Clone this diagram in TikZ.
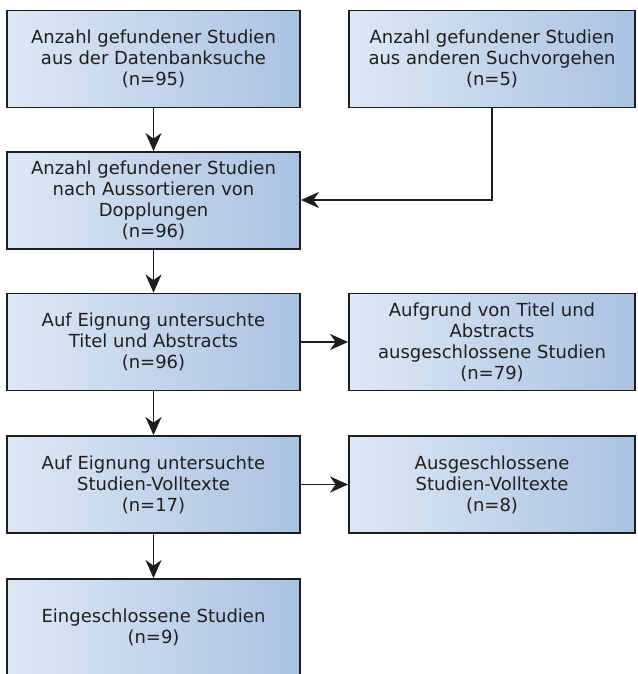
\documentclass[tikz,border=0pt]{standalone}
\usepackage{fontspec}
\setmainfont{DejaVu Sans}
\usetikzlibrary{arrows.meta}
\definecolor{boxl}{HTML}{DDE8F5}
\definecolor{boxr}{HTML}{AAC2E2}
\definecolor{edge}{HTML}{1E1E1E}
\begin{document}
\begin{tikzpicture}[x=1pt,y=1pt,
  flowbox/.style={draw=edge, line width=1.8pt, left color=boxl, right color=boxr,
    minimum height=97pt, inner sep=0pt, align=center,
    font=\fontsize{18}{21}\selectfont, text=black!88},
  lbox/.style={flowbox, minimum width=293pt},
  rbox/.style={flowbox, minimum width=286pt},
  arr/.style={draw=edge, line width=1.9pt, -{Stealth[length=18pt,width=16pt,inset=5.5pt]}}]
\useasboundingbox (0,0) rectangle (637,674);
\begin{scope}
\clip (0,0) rectangle (637,674);
\node[lbox] (b1) at (153.5,615) {Anzahl gefundener Studien\\aus der Datenbanksuche\\(n=95)};
\node[rbox] (b2) at (492,615) {Anzahl gefundener Studien\\aus anderen Suchvorgehen\\(n=5)};
\node[lbox] (b3) at (153.5,473.5) {Anzahl gefundener Studien\\nach Aussortieren von\\Dopplungen\\(n=96)};
\node[lbox] (b4) at (153.5,332) {Auf Eignung untersuchte\\Titel und Abstracts\\(n=96)};
\node[rbox] (b5) at (492,332) {Aufgrund von Titel und\\Abstracts\\ausgeschlossene Studien\\(n=79)};
\node[lbox] (b6) at (153.5,189.5) {Auf Eignung untersuchte\\Studien-Volltexte\\(n=17)};
\node[rbox] (b7) at (492,189.5) {Ausgeschlossene\\Studien-Volltexte\\(n=8)};
\node[lbox] (b8) at (153.5,46.5) {Eingeschlossene Studien\\(n=9)};
\draw[arr] (b1) -- (b3);
\draw[arr] (b2.south) |- (b3.east |- 0,474);
\draw[arr] (b3) -- (b4);
\draw[arr] (b4) -- (b5);
\draw[arr] (b4) -- (b6);
\draw[arr] (b6) -- (b7);
\draw[arr] (b6) -- (b8);
\end{scope}
\end{tikzpicture}
\end{document}
